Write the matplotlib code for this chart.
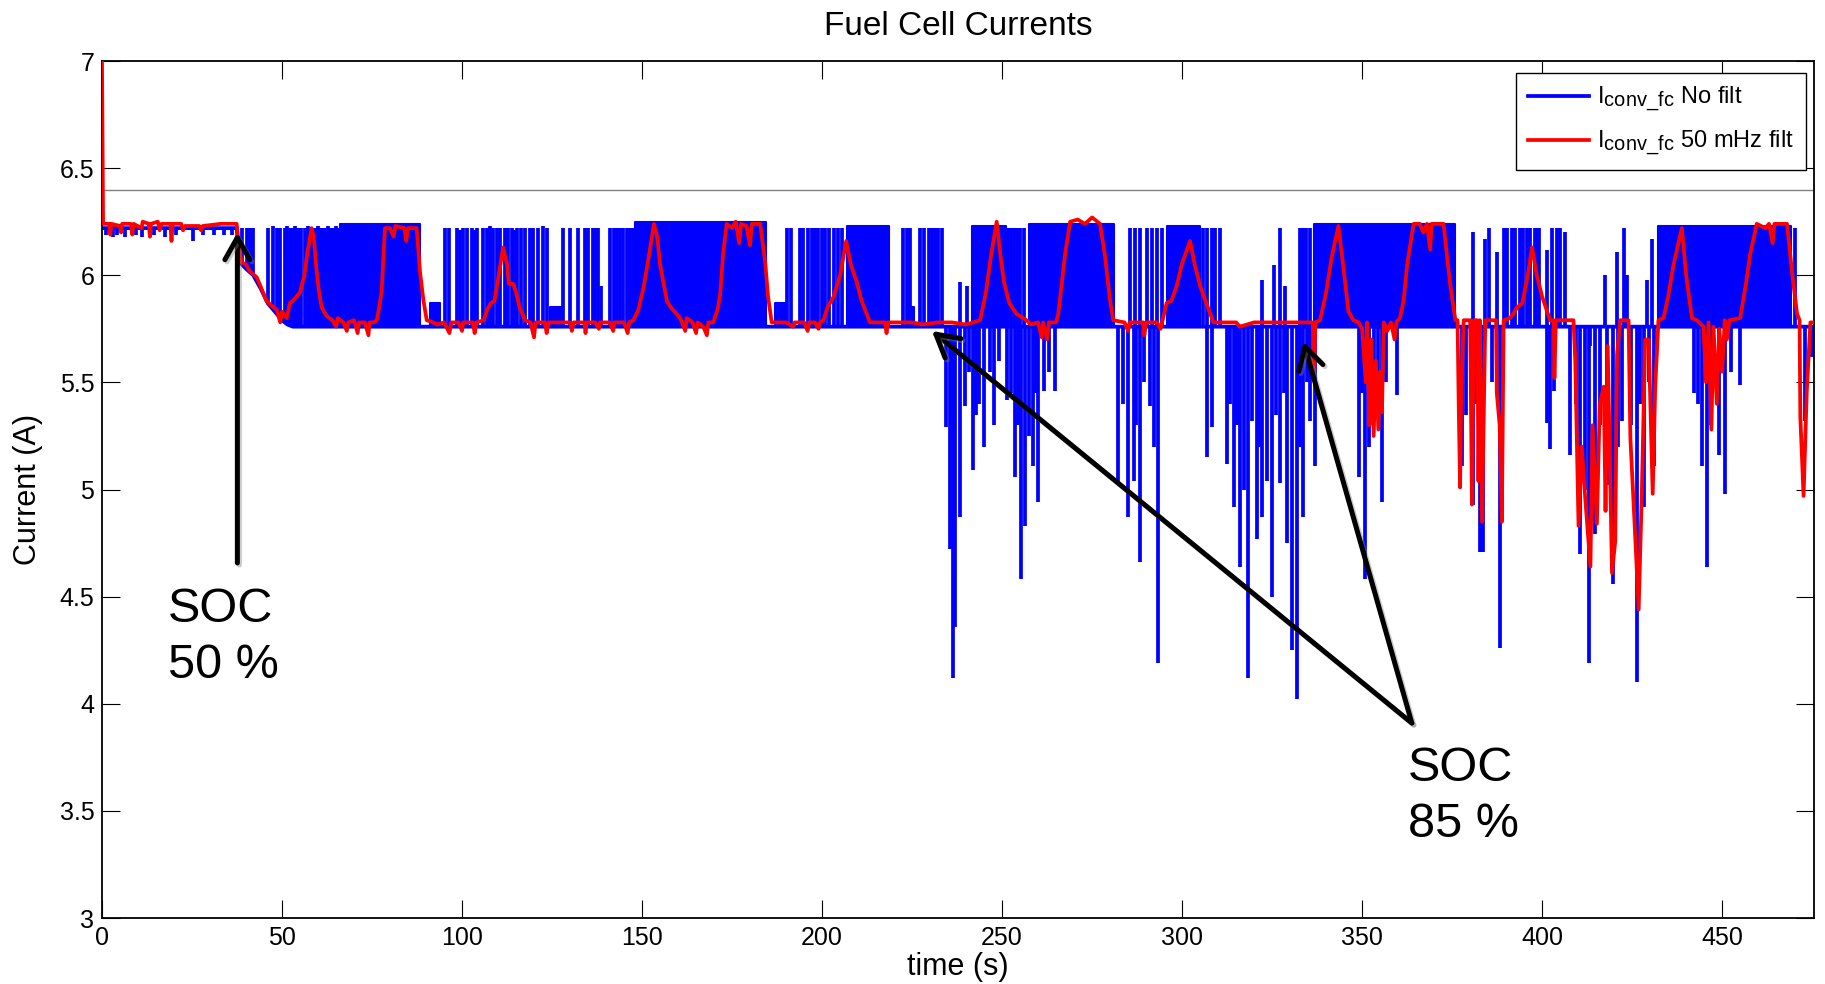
import numpy as np
import matplotlib
matplotlib.use("Agg")
import matplotlib.pyplot as plt
import matplotlib.patheffects as pe
import matplotlib._mathtext as _mathtext

plt.rcParams['font.family'] = ['Liberation Sans', 'DejaVu Sans']
plt.rcParams['mathtext.fontset'] = 'custom'
plt.rcParams['mathtext.rm'] = 'Liberation Sans'
plt.rcParams['mathtext.it'] = 'Liberation Sans:italic'
# subscripts only slightly smaller than the running text
_mathtext.SHRINK_FACTOR = 0.85

# ---------------- data ----------------
# filtered (50 mHz) converter current, time [s] / current [A]
red_t = [0, 0.3, 2, 2.3, 2.6, 5, 5.3, 5.6, 8, 8.4, 8.8, 11, 11.3, 13, 13.3, 13.6,
         15.5, 16, 16.5, 19, 19.3, 19.6, 22, 22.5, 23, 27, 27.5, 28, 33, 37.4,
         38.0, 38.8, 40, 41, 43, 44, 45.7, 47, 48.5, 49.5, 50, 51.3, 52.2, 53, 55,
         56.2, 57, 58.2, 58.8, 59.6, 60.3, 61, 62.4, 64, 65, 65.5, 67, 68, 68.4, 70,
         71, 71.4, 73, 74, 74.3, 75.5, 76.3, 77, 77.7, 78.2, 78.6, 80, 81, 81.5, 84,
         84.5, 85, 87.4, 88.3, 89.3, 90.2, 92, 93, 95, 96.5, 97, 99, 100, 100.3, 103,
         103.5, 104, 106, 107, 108, 109, 110, 111.4, 112.5, 113, 114.2, 115, 116,
         117.5, 119, 120, 120.4, 123, 123.5, 124, 127, 130, 130.5, 131, 134, 134.3,
         134.6, 137, 138, 138.3, 141, 142, 142.3, 145, 146, 146.4, 147.6, 149, 150.5,
         152, 153.3, 154.2, 155, 156.9, 158, 160.6, 162, 162.4, 164, 165, 165.4, 167,
         168, 168.4, 169.8, 171, 171.7, 172.5, 173.5, 175, 176, 177, 177.5, 179, 180,
         180.5, 182.8, 184.2, 185, 186, 190, 192, 192.4, 195, 196, 196.4, 198, 199,
         199.4, 200.4, 201.5, 203.2, 205, 206.7, 208, 209.6, 211, 213.3, 217.5, 217.9,
         218.3, 222, 225, 228, 232, 236, 240, 243.9, 245.5, 247, 248.5, 249.5, 250.5,
         252, 254, 256.8, 258, 260, 261, 261.4, 262.5, 263, 265, 265.6, 266.5, 267.5,
         268.9, 271, 273, 275, 277.2, 278.5, 280, 280.9, 284, 285, 285.4, 289.2, 289.5,
         290, 293, 294, 295.7, 297, 298.5, 299.9, 302.2, 303.5, 305, 306.5, 308.7, 312,
         315, 316, 320, 325, 330, 334, 336.3, 336.6, 337, 338.3, 340, 341.5, 343.4,
         344.5, 346.2, 347.6, 349, 350, 351, 351.4, 352, 352.5, 353.2, 353.8, 354.5,
         355, 355.5, 356, 357, 358, 359, 359.5, 360.5, 361.5, 362.5, 364.3, 366, 367,
         368, 368.9, 369.3, 372.6, 373.5, 374.5, 375.9, 376.5, 376.8, 377.2, 377.5,
         378.2, 380, 380.5, 381, 382, 382.3, 382.7, 383.3, 384.2, 387.2, 387.4, 388.2,
         388.8, 389.3, 391, 392, 393, 394.5, 396, 397.2, 398.5, 400, 402.2, 403.2,
         403.4, 403.8, 408.7, 409.2, 410.1, 411, 412, 413.4, 414, 415.2, 416, 417.1,
         417.6, 418.2, 419.4, 420.3, 420.8, 421.7, 424, 424.5, 425.9, 426.8, 427.7,
         428.6, 429.6, 430.7, 431.4, 432.3, 433.7, 435, 436.5, 438.8, 440, 441.6, 443,
         444.8, 445.5, 446.2, 447, 447.6, 448.5, 449.2, 450, 450.7, 451.3, 452, 455,
         456.5, 457.8, 459.6, 462, 463, 464, 464.5, 468, 469.5, 470.8, 471.5, 471.7,
         472.6, 473.5, 474.5, 475.5]
red_v = [7.0, 6.24, 6.24, 6.19, 6.24, 6.23, 6.20, 6.24, 6.24, 6.19, 6.24, 6.22, 6.25,
         6.24, 6.18, 6.24, 6.25, 6.21, 6.24, 6.24, 6.16, 6.24, 6.24, 6.21, 6.23, 6.23,
         6.21, 6.23, 6.24, 6.24,
         6.14, 6.06, 6.05, 6.02, 5.99, 5.95, 5.88, 5.86, 5.84, 5.78, 5.83, 5.80, 5.87,
         5.88, 5.92, 6.00, 6.10, 6.22, 6.18, 6.02, 5.92, 5.85, 5.81, 5.79, 5.76, 5.80,
         5.78, 5.74, 5.78, 5.79, 5.73, 5.78, 5.78, 5.72, 5.78, 5.78, 5.79, 5.85, 5.93,
         6.10, 6.22, 6.22, 6.18, 6.23, 6.22, 6.16, 6.22, 6.22, 6.02, 5.88, 5.79, 5.78,
         5.77, 5.78, 5.73, 5.78, 5.78, 5.74, 5.78, 5.78, 5.73, 5.78, 5.79, 5.84, 5.87,
         5.88, 5.98, 6.13, 6.05, 5.96, 5.96, 5.92, 5.85, 5.79, 5.78, 5.71, 5.78, 5.78,
         5.73, 5.78, 5.78, 5.78, 5.74, 5.78, 5.78, 5.73, 5.78, 5.78, 5.75, 5.78, 5.78,
         5.74, 5.78, 5.78, 5.73, 5.78, 5.79, 5.84, 5.95, 6.10, 6.24, 6.18, 6.05, 5.88,
         5.85, 5.80, 5.74, 5.80, 5.78, 5.73, 5.78, 5.76, 5.72, 5.78, 5.78, 5.84, 5.91,
         6.10, 6.24, 6.22, 6.25, 6.15, 6.24, 6.23, 6.14, 6.24, 6.24, 6.06, 5.90, 5.78,
         5.78, 5.76, 5.78, 5.78, 5.74, 5.78, 5.78, 5.75, 5.78, 5.79, 5.85, 5.90, 6.00,
         6.16, 6.05, 5.97, 5.88, 5.78, 5.78, 5.73, 5.78, 5.78, 5.78, 5.77, 5.78, 5.78,
         5.77, 5.79, 5.92, 6.10, 6.25, 6.10, 5.97, 5.87, 5.82, 5.79, 5.77, 5.78, 5.71,
         5.78, 5.70, 5.78, 5.78, 5.82, 5.95, 6.10, 6.25, 6.26, 6.24, 6.27, 6.24, 6.10,
         5.88, 5.79, 5.78, 5.74, 5.78, 5.78, 5.72, 5.78, 5.78, 5.75, 5.87, 5.88, 5.95,
         6.05, 6.16, 6.05, 5.95, 5.88, 5.78, 5.78, 5.78, 5.76, 5.78, 5.78, 5.78, 5.78,
         5.78, 5.51, 5.78, 5.79, 5.92, 6.08, 6.23, 6.08, 5.83, 5.79, 5.78, 5.75, 5.50,
         5.78, 5.30, 5.70, 5.25, 5.60, 5.28, 5.55, 5.36, 5.78, 5.74, 5.78, 5.70, 5.78,
         5.80, 5.88, 6.05, 6.24, 6.24, 6.20, 6.24, 6.12, 6.24, 6.24, 6.10, 5.95, 5.79,
         5.79, 5.42, 5.01, 5.45, 5.79, 5.79, 4.93, 5.79, 5.79, 5.04, 5.79, 4.85, 5.79,
         5.79, 5.45, 5.30, 4.85, 5.79, 5.80, 5.82, 5.85, 5.87, 6.00, 6.13, 6.00, 5.90,
         5.79, 5.79, 5.52, 5.79, 5.79, 5.60, 4.83, 5.20, 4.95, 4.64, 5.30, 4.84, 5.40,
         5.48, 4.90, 5.67, 4.61, 4.76, 5.63, 5.79, 5.79, 5.24, 4.76, 4.44, 5.00, 5.70,
         5.70, 4.98, 5.48, 5.79, 5.80, 5.90, 6.05, 6.22, 6.00, 5.80, 5.79, 5.76, 5.50,
         5.78, 5.28, 5.76, 5.40, 5.75, 5.55, 5.79, 5.70, 5.79, 5.80, 5.95, 6.10, 6.24,
         6.22, 6.24, 6.15, 6.24, 6.24, 6.00, 5.82, 5.79, 5.34, 4.97, 5.46, 5.78, 5.78]

# unfiltered converter current: resting level, switching bursts, single pulses and dips
blue_base_t = [0, 37.4, 38.3, 40, 42, 44, 46, 48, 50, 51.5, 53, 475.5]
blue_base_v = [6.22, 6.22, 6.06, 6.03, 6.00, 5.94, 5.87, 5.83, 5.79, 5.77, 5.76, 5.76]

# (start, end, upper level) of fast switching bursts
blue_bursts = [(66.1, 88.3, 6.24), (91.0, 94.0, 5.87), (124.5, 128.0, 5.85),
               (148.1, 184.5, 6.25), (187.0, 189.7, 5.87), (206.9, 218.5, 6.23),
               (223.5, 225.4, 5.85), (241.6, 251.0, 6.23), (257.5, 281.0, 6.24),
               (295.8, 305.0, 6.23), (336.5, 375.9, 6.24), (432.3, 469.0, 6.23)]

# (time, peak) of single upward pulses
blue_pulses = [(38.8, 6.22), (40.2, 6.22), (41.1, 6.22), (42.0, 6.22),
               (46.2, 6.22), (47.6, 6.23), (48.7, 6.22), (49.4, 6.22), (50.8, 6.22),
               (51.5, 6.23), (52.2, 6.22), (52.6, 6.22), (53.1, 6.22), (53.6, 6.23),
               (54.1, 6.22), (54.7, 6.22), (55.4, 6.22), (56.4, 6.22), (57.2, 6.23),
               (57.8, 6.22), (58.4, 6.22), (59.1, 6.22), (59.6, 6.22), (60.1, 6.23),
               (60.6, 6.22), (61.0, 6.22), (61.9, 6.22), (62.3, 6.22), (62.8, 6.23),
               (63.3, 6.22), (63.8, 6.22), (64.2, 6.22), (64.7, 6.22), (65.1, 6.23),
               (65.6, 6.22),
               (95.3, 6.22), (96.5, 6.22), (98.5, 6.22), (99.4, 6.21), (100.2, 6.22),
               (101.3, 6.22), (102.7, 6.22), (103.5, 6.21), (104.1, 6.22), (105.9, 6.22),
               (106.8, 6.22), (107.8, 6.23), (108.7, 6.22), (109.6, 6.22), (110.5, 6.22),
               (111.9, 6.22), (112.8, 6.22), (113.8, 6.22), (114.5, 6.21), (115.2, 6.22),
               (116.5, 6.22), (117.5, 6.22), (118.9, 6.22), (119.8, 6.22), (121.2, 6.22),
               (122.6, 6.23), (123.5, 6.22),
               (128.1, 6.22), (130.0, 6.22), (132.3, 6.22), (134.2, 6.22), (135.1, 6.22),
               (136.5, 6.22), (137.0, 6.22), (137.9, 6.22), (138.5, 5.95), (141.1, 6.22),
               (142.1, 6.22), (143.0, 6.22), (143.9, 6.22), (144.8, 6.22), (145.8, 6.22),
               (146.7, 6.22), (147.6, 6.22),
               (190.2, 6.22), (191.4, 6.22), (193.9, 6.22), (194.8, 6.22), (196.2, 6.22),
               (197.2, 6.22), (198.1, 6.22), (199.0, 6.22), (199.9, 6.22), (200.9, 6.22),
               (201.8, 6.22), (203.2, 6.22), (204.5, 6.22), (205.5, 6.22),
               (222.6, 6.22), (223.5, 6.22), (224.5, 6.22), (227.3, 6.22), (228.2, 6.22),
               (229.6, 6.22), (230.5, 6.22), (231.4, 6.22), (232.3, 6.22), (233.3, 6.22),
               (238.4, 5.97), (240.2, 5.95),
               (251.5, 6.22), (252.5, 6.22), (253.3, 6.22), (254.2, 6.22), (255.1, 6.22),
               (256.2, 6.22),
               (285.6, 6.22), (287.0, 6.22), (288.4, 6.22), (290.2, 6.22), (291.6, 6.22),
               (293.0, 6.22), (294.4, 6.22), (305.9, 6.22), (306.9, 6.22), (308.3, 6.22),
               (309.2, 6.22), (310.6, 6.22),
               (322.2, 5.98), (325.4, 6.05), (327.3, 6.22), (328.7, 5.95), (332.8, 6.22),
               (333.5, 6.22), (334.4, 6.22), (335.5, 6.22),
               (380.9, 6.20), (384.2, 6.17), (385.1, 6.22), (387.4, 6.11), (389.3, 6.22),
               (389.7, 6.22), (390.2, 6.22), (391.6, 6.22), (392.5, 6.22), (393.9, 6.22),
               (394.8, 6.22), (395.8, 6.22), (396.7, 6.22), (398.1, 6.22), (398.5, 6.22),
               (399.0, 6.22), (401.3, 6.12), (402.7, 6.22), (404.1, 6.22), (405.0, 6.22),
               (406.4, 6.20),
               (413.4, 5.67), (417.5, 6.00), (420.8, 6.11), (422.6, 6.22), (423.5, 6.00),
               (426.8, 5.67), (429.1, 5.98), (430.5, 6.17), (470.3, 6.22)]

# (time, minimum) of downward dips
blue_dips = [(1.0, 6.19), (3.0, 6.18), (4.2, 6.19), (6.5, 6.18), (9.5, 6.19),
             (11.0, 6.18), (14.5, 6.19), (17.5, 6.18), (20.5, 6.19), (25.3, 6.16),
             (28.0, 6.19), (31.0, 6.19), (34.0, 6.19), (36.0, 6.19),
             (234.4, 5.29), (235.6, 4.72), (236.3, 4.12), (237.0, 4.36), (238.3, 4.87),
             (239.7, 5.39), (240.8, 5.55), (241.9, 5.09), (242.8, 5.35), (243.5, 5.40),
             (245.0, 5.20), (246.5, 5.55), (247.8, 5.30), (249.0, 5.60), (251.3, 5.42),
             (252.4, 5.45), (253.6, 5.06), (254.5, 5.30), (255.2, 4.58), (256.4, 4.83),
             (257.5, 5.25), (258.7, 5.11), (259.4, 5.45), (260.1, 4.94), (261.5, 5.46),
             (263.0, 5.55), (264.7, 5.46),
             (282.3, 5.03), (283.5, 5.40), (285.1, 4.87), (286.5, 5.04), (287.3, 5.30),
             (288.2, 4.66), (289.5, 5.50), (291.1, 5.39), (292.2, 5.20), (293.4, 4.19),
             (306.9, 5.15), (308.2, 5.29), (312.4, 5.12), (313.2, 5.40), (314.3, 4.92),
             (315.2, 5.30), (316.1, 4.64), (317.2, 5.00), (318.2, 4.12), (319.4, 5.32),
             (320.7, 4.77), (321.4, 5.20), (322.1, 4.87), (323.5, 5.04), (324.9, 4.50),
             (326.0, 5.35), (327.2, 5.03), (328.2, 5.45), (329.1, 4.75), (330.5, 4.25),
             (331.9, 4.02), (332.8, 5.20), (333.7, 4.87), (334.6, 5.50), (335.6, 5.32),
             (337.0, 5.11), (349.0, 5.06), (350.0, 5.45), (350.9, 4.58), (352.0, 5.20),
             (353.2, 5.32), (354.3, 5.40), (355.5, 4.94), (356.5, 5.50), (359.7, 5.44),
             (377.7, 5.11), (378.8, 5.35), (380.8, 4.93), (381.8, 5.40), (382.8, 4.71),
             (383.5, 4.71), (386.0, 5.50), (388.4, 4.26),
             (401.3, 5.31), (402.2, 5.19), (403.2, 5.46), (407.8, 5.16), (409.5, 5.40),
             (410.6, 4.70), (411.8, 5.00), (413.1, 4.19), (414.7, 4.79), (416.0, 5.30),
             (418.0, 5.02), (419.8, 4.56), (421.0, 5.20), (422.2, 5.32), (424.8, 5.30),
             (426.3, 4.10), (427.3, 5.40), (428.2, 4.92), (429.8, 5.50), (431.0, 5.11),
             (442.1, 5.45), (443.3, 5.40), (444.4, 5.11), (445.8, 4.64), (447.0, 5.30),
             (449.0, 5.16), (450.9, 4.98), (452.5, 5.55), (455.0, 5.49), (473.1, 5.32),
             (474.9, 5.62)]

limit_level = 6.4

x_ticks = [0, 50, 100, 150, 200, 250, 300, 350, 400, 450]
y_ticks = [3, 3.5, 4, 4.5, 5, 5.5, 6, 6.5, 7]
y_tick_labels = ['3', '3.5', '4', '4.5', '5', '5.5', '6', '6.5', '7']

# ---------------- figure ----------------
BLUE = '#0000ff'
RED = '#ff0000'
LW = 2.7

fig = plt.figure(figsize=(18.25, 9.84), dpi=100)
ax = fig.add_axes([0.05589, 0.06707, 0.93808, 0.87093])


def base_at(t):
    return np.interp(t, blue_base_t, blue_base_v)


# unfiltered current
blue_line, = ax.plot(blue_base_t, blue_base_v, color=BLUE, lw=LW, zorder=2,
                     solid_joinstyle='miter')
for t0, t1, top in blue_bursts:
    ax.fill_between([t0, t1], [base_at(t0), base_at(t1)], [top, top],
                    facecolor=BLUE, edgecolor=BLUE, lw=1.5, zorder=2)
p_t = np.array([p[0] for p in blue_pulses])
p_v = np.array([p[1] for p in blue_pulses])
ax.vlines(p_t, base_at(p_t), p_v, colors=BLUE, lw=LW, zorder=2)
d_t = np.array([d[0] for d in blue_dips])
d_v = np.array([d[1] for d in blue_dips])
ax.vlines(d_t, d_v, base_at(d_t), colors=BLUE, lw=LW, zorder=2)

# filtered current
red_line, = ax.plot(red_t, red_v, color=RED, lw=LW, zorder=3)

ax.axhline(limit_level, color='#808080', lw=1.0, zorder=1)

ax.set_xlim(0, 475.5)
ax.set_ylim(3, 7)
ax.set_xticks(x_ticks)
ax.set_xticklabels([str(v) for v in x_ticks])
ax.set_yticks(y_ticks)
ax.set_yticklabels(y_tick_labels)
ax.tick_params(direction='in', length=13, width=0.8, labelsize=18, pad=5.5,
               top=True, right=True)
for s in ax.spines.values():
    s.set_linewidth(1.3)

ax.set_title('Fuel Cell Currents', fontsize=24, pad=18.5)
ax.set_xlabel('time (s)', fontsize=22)
ax.set_ylabel('Current (A)', fontsize=22)
ax.xaxis.set_label_coords(0.5, -0.040)
ax.yaxis.set_label_coords(-0.0345, 0.5)

leg = ax.legend([blue_line, red_line],
                [r'I$_{\mathregular{conv\_fc}}$ No filt',
                 r'I$_{\mathregular{conv\_fc}}$ 50 mHz filt'],
                loc='upper right', bbox_to_anchor=(0.9953, 0.986),
                fontsize=17, frameon=True, fancybox=False, framealpha=1,
                edgecolor='black', handlelength=2.6, handletextpad=0.35,
                borderpad=0.5, labelspacing=0.65, borderaxespad=0)
leg.get_frame().set_linewidth(1.0)

# state-of-charge annotations
shadow = [pe.SimpleLineShadow(offset=(1.5, -1.5), shadow_color='gray', alpha=0.4),
          pe.Normal()]
arrow_kw = dict(arrowstyle='->,head_length=0.8,head_width=0.45', lw=3.6,
                color='black', shrinkA=0, shrinkB=0, mutation_scale=20)
arrows = [((37.6, 4.657), (37.6, 6.20)),
          ((363.8, 3.91), (230.5, 5.74)),
          ((363.8, 3.91), (333.7, 5.69))]
for tail, tip in arrows:
    a = ax.annotate('', xy=tip, xytext=tail, arrowprops=arrow_kw, zorder=5)
    a.arrow_patch.set_path_effects(shadow)

soc_labels = [(18.4, 4.545, 'SOC\n50 %'), (362.8, 3.805, 'SOC\n85 %')]
for x, y, s in soc_labels:
    ax.text(x, y, s, fontsize=35, ha='left', va='top', linespacing=1.32,
            zorder=6)

fig.savefig('out.png', dpi=100)
